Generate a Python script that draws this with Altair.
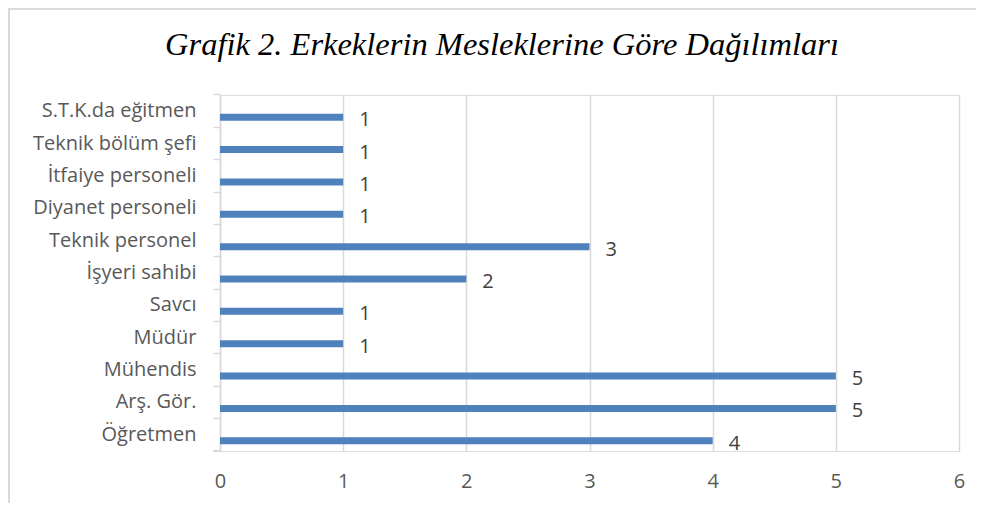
import altair as alt
import pandas as pd

categories = ["S.T.K.da eğitmen", "Teknik bölüm şefi", "İtfaiye personeli", "Diyanet personeli",
              "Teknik personel", "İşyeri sahibi", "Savcı", "Müdür", "Mühendis", "Arş. Gör.", "Öğretmen"]
values = [1, 1, 1, 1, 3, 2, 1, 1, 5, 5, 4]
x_ticks = [0, 1, 2, 3, 4, 5, 6]
title_text = "Grafik 2. Erkeklerin Mesleklerine Göre Dağılımları"

df = pd.DataFrame({"meslek": categories, "sayi": values})
title_df = pd.DataFrame({"t": [title_text]})

W, H = 739, 356
FONT = "Open Sans"
FS = 20
GRAY = "#595959"
GRID = "#d9d9d9"

ysc = alt.Scale(domain=categories, paddingInner=0, paddingOuter=0)
xsc = alt.Scale(domain=[0, 6], nice=False)

y_enc = alt.Y("meslek:N", sort=categories, scale=ysc,
              axis=alt.Axis(title=None, bandPosition=0, domainColor=GRID, domainWidth=1.5,
                            tickColor=GRID, tickWidth=1.5, tickSize=7, labelPadding=17,
                            labelFont=FONT, labelFontSize=FS, labelColor=GRAY, grid=False))
x_enc = alt.X("sayi:Q", scale=xsc,
              axis=alt.Axis(title=None, values=x_ticks, format="d", grid=True, gridColor=GRID,
                            gridWidth=1.5, domain=False, ticks=False, labelPadding=20,
                            labelFlush=False, labelFont=FONT, labelFontSize=FS,
                            labelColor=GRAY))

bars = alt.Chart(df).mark_bar(color="#4f81bd", size=7, yOffset=6).encode(x=x_enc, y=y_enc)
labels = alt.Chart(df).mark_text(align="left", baseline="middle", dx=16, dy=9, font=FONT,
                                 fontSize=FS, color="#404040").encode(
    x=alt.X("sayi:Q", scale=xsc), y=alt.Y("meslek:N", sort=categories, scale=ysc),
    text="sayi:Q")

title = alt.Chart(title_df).mark_text(align="center", baseline="alphabetic",
                                      font="Liberation Serif", fontStyle="italic",
                                      fontSize=32.5, color="#000000").encode(
    x=alt.value(282), y=alt.value(-40), text="t:N")

bottom_tick = alt.Chart(df).mark_rule(color=GRID, strokeWidth=1.5).encode(
    x=alt.value(-7), x2=alt.value(0), y=alt.value(H))
top_border = alt.Chart(df).mark_rule(color=GRID, strokeWidth=1.5).encode(
    x=alt.value(-211), x2=alt.value(790), y=alt.value(-86.5))
left_border = alt.Chart(df).mark_rule(color=GRID, strokeWidth=1.5).encode(
    x=alt.value(-211), y=alt.value(-87), y2=alt.value(420))

chart = alt.layer(bars, labels, title, bottom_tick, top_border, left_border).properties(
    width=W, height=H,
    autosize=alt.AutoSizeParams(type="none"),
    padding={"left": 212, "top": 87, "right": 17, "bottom": 52},
).configure_view(stroke=None).configure(background="white")

chart.save("out.html", embed_options={"renderer": "svg", "actions": False})
